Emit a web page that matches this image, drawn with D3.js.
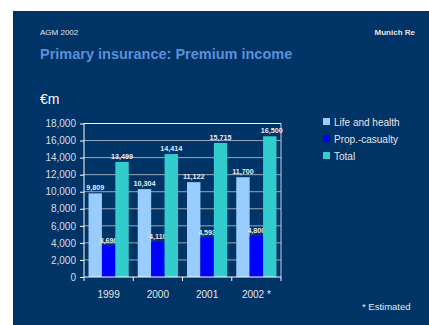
<!DOCTYPE html>
<meta charset="utf-8">
<style>
body { margin: 0; background: #fff; }
text { font-family: "Liberation Sans", Arial, sans-serif; }
</style>
<body>
<script src="https://d3js.org/d3.v7.min.js"></script>
<script>
var years = ["1999", "2000", "2001", "2002 *"];
var series = ["Life and health", "Prop.-casualty", "Total"];
var life = [9809, 10304, 11122, 11700];
var prop = [3690, 4110, 4593, 4800];
var total = [13499, 14414, 15715, 16500];
var yTicks = [0, 2000, 4000, 6000, 8000, 10000, 12000, 14000, 16000, 18000];
var colors = ["#99ccff", "#0000ff", "#33cccc"];

var W = 429, H = 325;
var svg = d3.select("body").append("svg").attr("width", W).attr("height", H);

// slide background
svg.append("rect").attr("x", 13).attr("y", 11).attr("width", W - 13).attr("height", H - 11).attr("fill", "#003366");

svg.append("text").attr("x", 40).attr("y", 35).attr("font-size", 8).attr("fill", "#e6e6e6").text("AGM 2002");
svg.append("text").attr("x", 415).attr("y", 35).attr("text-anchor", "end").attr("font-size", 8).attr("font-weight", "bold").attr("fill", "#e6e6e6").text("Munich Re");
svg.append("text").attr("x", 40).attr("y", 59).attr("font-size", 14.5).attr("font-weight", "bold").attr("fill", "#5b91d8").text("Primary insurance: Premium income");
svg.append("text").attr("x", 40).attr("y", 104).attr("font-size", 14).attr("fill", "#ffffff").text("€m");

var plotL = 84, plotR = 281, plotT = 123.5, plotB = 277;
var x = d3.scaleBand().domain(years).range([plotL, plotR]).paddingInner(0).paddingOuter(0);
var y = d3.scaleLinear().domain([0, 18000]).range([plotB, plotT]);
var xs = d3.scaleBand().domain(series).range([4.5, x.bandwidth() - 4.5]).padding(0);

var g = svg.append("g");

// gridlines
g.selectAll(".grid").data(yTicks.slice(1, -1)).enter().append("line")
  .attr("x1", plotL).attr("x2", plotR)
  .attr("y1", function(d){ return y(d); }).attr("y2", function(d){ return y(d); })
  .attr("stroke", "#9aa8bc").attr("stroke-width", 1);
g.append("line").attr("x1", plotL).attr("x2", plotR).attr("y1", plotT).attr("y2", plotT).attr("stroke", "#ffffff");
g.append("line").attr("x1", plotR).attr("x2", plotR).attr("y1", plotT).attr("y2", plotB).attr("stroke", "#c8d0dc");

var vals = [life, prop, total];
years.forEach(function(yr, i) {
  series.forEach(function(s, k) {
    var v = vals[k][i];
    var bx = x(yr) + xs(s);
    g.append("rect").attr("x", bx).attr("y", y(v)).attr("width", xs.bandwidth()).attr("height", plotB - y(v)).attr("fill", colors[k]);
    g.append("text").attr("x", bx + xs.bandwidth() / 2 + (k == 2 && i == 3 ? 2 : 0)).attr("y", y(v) - 3)
      .attr("text-anchor", "middle").attr("font-size", 7.2).attr("font-weight", "bold").attr("fill", "#e8ecf2")
      .text(d3.format(",")(v));
  });
});

// y axis
var ya = svg.append("g").attr("transform", "translate(" + plotL + ",0)")
  .call(d3.axisLeft(y).tickValues(yTicks).tickFormat(d3.format(",")).tickSize(4).tickPadding(4));
ya.select(".domain").attr("stroke", "#ffffff").attr("d", "M0," + plotB + "V" + plotT);
ya.selectAll(".tick line").attr("stroke", "#ffffff");
ya.selectAll("text").attr("font-size", 10).attr("fill", "#d8dde6").style("font-family", "Liberation Sans, Arial, sans-serif");

// x axis
var xa = svg.append("g").attr("transform", "translate(0," + plotB + ")")
  .call(d3.axisBottom(x).tickSize(0).tickPadding(14));
xa.select(".domain").attr("stroke", "#ffffff").attr("d", "M" + plotL + ",0H" + plotR);
xa.selectAll("text").attr("font-size", 10).attr("fill", "#e6e6e6").style("font-family", "Liberation Sans, Arial, sans-serif");
xa.selectAll(".sep").data(d3.range(years.length + 1)).enter().append("line")
  .attr("x1", function(d){ return plotL + d * x.bandwidth(); }).attr("x2", function(d){ return plotL + d * x.bandwidth(); })
  .attr("y1", 0).attr("y2", 4).attr("stroke", "#ffffff");

// legend
var lg = svg.append("g");
series.forEach(function(s, k) {
  var ly = 126 + k * 17;
  lg.append("rect").attr("x", 323).attr("y", ly - 8).attr("width", 7).attr("height", 7).attr("fill", colors[k]);
  lg.append("text").attr("x", 334).attr("y", ly).attr("font-size", 10).attr("fill", "#e6e6e6").text(s);
});

svg.append("text").attr("x", 362).attr("y", 310).attr("font-size", 9.5).attr("fill", "#e6e6e6").text("* Estimated");
</script>
